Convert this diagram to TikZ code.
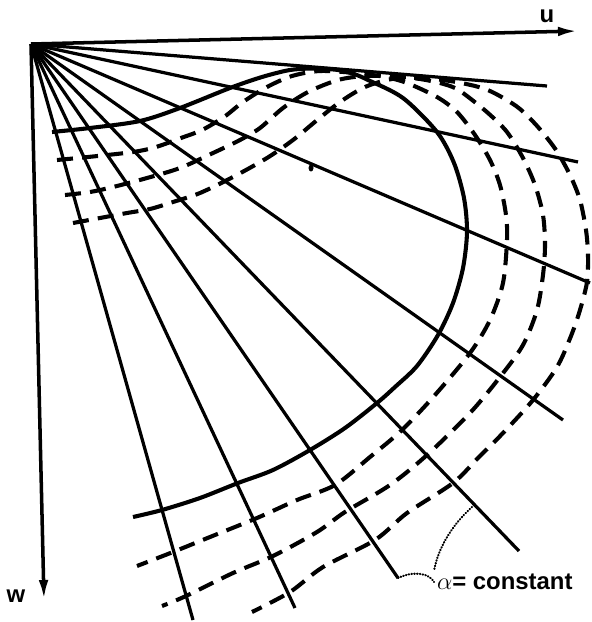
\documentclass[tikz,border=0pt]{standalone}
\usepackage{fontspec}
\setmainfont{Liberation Sans}
\usetikzlibrary{arrows.meta}

\begin{document}
\begin{tikzpicture}[
  x=0.25mm, y=-0.25mm,
  font=\fontsize{17}{20}\selectfont\bfseries,
  >={Latex[length=5mm,width=2.4mm]},
  axis/.style={line width=2.5pt, ->},
  ray/.style={line width=2.3pt},
  front/.style={line width=2.9pt},
  wave/.style={line width=2.9pt, dash pattern=on 4mm off 2.3mm},
  guide/.style={line width=1.5pt, dash pattern=on 0.4pt off 1.6pt, line cap=round},
  lbl/.style={inner sep=0pt}
]
\useasboundingbox (0,0) rectangle (592,622);
% origin and ray ends
\coordinate (O)  at (31,44);
\coordinate (ue) at (578,31);
\coordinate (we) at (44,600);
\coordinate (r2) at (547,86);
\coordinate (r3) at (578,162);
\coordinate (r4) at (590,283);
\coordinate (r5) at (563,420);
\coordinate (r6) at (519,551);
\coordinate (r7) at (398,578);
\coordinate (r8) at (295,608);
\coordinate (r9) at (193,620);
\coordinate (a6) at (472,507);
% axes
\draw[axis] (O) -- (ue);
\draw[axis] (O) -- (we);
\node[lbl] (ulab) at (547,16)  {u};
\node[lbl] (wlab) at (16,596)  {w};
% rays
\draw[ray] (O) -- (r2);
\draw[ray] (O) -- (r3);
\draw[ray] (O) -- (r4);
\draw[ray] (O) -- (r5);
\draw[ray] (O) -- (r6);
\draw[ray] (O) -- (r7);
\draw[ray] (O) -- (r8);
\draw[ray] (O) -- (r9);
\fill (311,168) ellipse[x radius=2.5, y radius=3.5];
% solid front
\draw[front] plot[smooth] coordinates {(52,132) (90,128) (140,121) (180,108) (230,88)
  (262,77) (290,70) (315,68.5) (338,70) (354,74) (368,80) (403,98) (437,132) (454,163)
  (464,198) (467,232) (463,268) (453,303) (438,335) (417,366) (395,387) (377,403)
  (345,428) (310,450) (273,470) (238,483) (200,498) (162,510) (133,517)};
% dashed fronts
\draw[wave] plot[smooth] coordinates {(57,160) (88,157) (133,152) (156,147) (181,138)
  (202,130) (224,117) (243,102) (267,87) (292,76) (320,71) (355,73) (385,77) (407,83)
  (437,97) (457,112) (475,135) (490,160) (500,185) (506,215) (507,240) (503,283)
  (490,320) (470,353) (435,395) (402,430) (370,457) (335,485) (297,500) (257,518)
  (210,537) (173,552) (137,566)};
\draw[wave] plot[smooth] coordinates {(65,195) (90,192) (113,187) (147,178) (180,168)
  (213,153) (240,140) (260,128) (283,108) (308,92) (338,80) (365,76) (395,76.5)
  (420,79) (440,83) (455,88) (467,96) (488,113) (507,132) (523,158) (535,185)
  (543,215) (545,245) (543,275) (537,310) (523,345) (500,377) (470,413) (427,455)
  (390,485) (345,512) (317,532) (273,556) (233,573) (186,596) (162,606)};
\draw[wave] plot[smooth] coordinates {(73,223) (100,218) (127,213) (150,209) (173,202)
  (200,193) (233,177) (267,158) (293,140) (316,121) (340,102) (365,87) (392,79)
  (420,78) (450,81) (475,86) (490,91) (505,99) (520,109) (538,127) (556,150)
  (570,175) (580,200) (586,230) (588,255) (587,282) (580,310) (571,336) (557,367)
  (533,400) (503,433) (478,458) (453,483) (407,513) (375,540) (323,567) (290,592)
  (252,612)};
% label
\node[lbl, inner sep=2pt, anchor=west] (alab) at (434,582) {$\alpha$= constant};
\draw[guide] (a6) .. controls (452,525) and (438,548) .. (alab.north west);
\draw[guide] (r7) .. controls (415,570) and (430,574) .. (alab.west);
\end{tikzpicture}
\end{document}
